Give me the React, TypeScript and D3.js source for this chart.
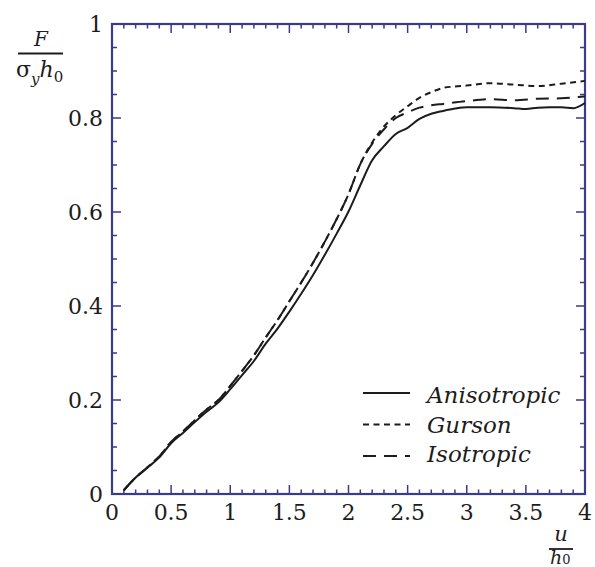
import React from "react";
import * as d3 from "d3";

const uAniso = [0.1,0.2,0.3,0.4,0.5,0.6,0.7,0.8,0.9,1.0,1.1,1.2,1.3,1.4,1.5,1.6,1.7,1.8,1.9,2.0,2.1,2.2,2.3,2.4,2.5,2.6,2.7,2.8,2.9,3.0,3.2,3.4,3.5,3.6,3.7,3.8,3.9,4.0];
const fAniso = [0.008,0.035,0.056,0.078,0.108,0.13,0.153,0.175,0.195,0.223,0.253,0.283,0.32,0.352,0.388,0.426,0.466,0.509,0.554,0.601,0.657,0.71,0.74,0.766,0.779,0.798,0.809,0.815,0.82,0.823,0.823,0.821,0.819,0.822,0.823,0.823,0.821,0.832];

const uGurson = [0.1,0.2,0.3,0.4,0.5,0.6,0.7,0.8,0.9,1.0,1.1,1.2,1.3,1.4,1.5,1.6,1.7,1.8,1.9,2.0,2.1,2.2,2.3,2.4,2.5,2.6,2.7,2.8,2.9,3.0,3.2,3.4,3.6,3.8,4.0];
const fGurson = [0.008,0.035,0.057,0.08,0.111,0.133,0.157,0.18,0.2,0.23,0.262,0.295,0.333,0.37,0.41,0.45,0.492,0.537,0.585,0.638,0.702,0.748,0.782,0.806,0.825,0.843,0.855,0.864,0.867,0.869,0.874,0.871,0.868,0.873,0.879];

const uIso = [0.1,0.2,0.3,0.4,0.5,0.6,0.7,0.8,0.9,1.0,1.1,1.2,1.3,1.4,1.5,1.6,1.7,1.8,1.9,2.0,2.1,2.2,2.3,2.4,2.5,2.6,2.7,2.8,3.0,3.2,3.4,3.6,3.8,4.0];
const fIso = [0.008,0.035,0.057,0.08,0.111,0.133,0.157,0.18,0.2,0.23,0.262,0.295,0.333,0.37,0.41,0.45,0.492,0.537,0.585,0.638,0.702,0.745,0.776,0.8,0.812,0.822,0.827,0.83,0.836,0.84,0.838,0.841,0.842,0.846];

const xTicks = [0, 0.5, 1, 1.5, 2, 2.5, 3, 3.5, 4];
const xTickLabels = ["0", "0.5", "1", "1.5", "2", "2.5", "3", "3.5", "4"];
const yTicks = [0, 0.2, 0.4, 0.6, 0.8, 1];
const yTickLabels = ["0", "0.2", "0.4", "0.6", "0.8", "1"];
const seriesNames = ["Anisotropic", "Gurson", "Isotropic"];

const L = 112, R = 585, T = 24, B = 494;
const AX = "#3b3a8c";
const INK = "#1c1c1c";
const SERIF = "DejaVu Serif";

export default function App() {
  const x = d3.scaleLinear().domain([0, 4]).range([L, R]);
  const y = d3.scaleLinear().domain([0, 1]).range([B, T]);
  const line = d3.line<[number, number]>().x(d => x(d[0])).y(d => y(d[1])).curve(d3.curveMonotoneX);
  const zip = (a: number[], b: number[]) => a.map((v, i) => [v, b[i]] as [number, number]);

  const xMinor = d3.range(0, 41).map(i => i / 10);
  const yMinor = d3.range(0, 21).map(i => i / 20);
  const isMajX = (v: number) => Math.abs(v * 2 - Math.round(v * 2)) < 1e-6;
  const isMajY = (v: number) => Math.abs(v * 5 - Math.round(v * 5)) < 1e-6;

  const series = [
    { name: seriesNames[0], d: zip(uAniso, fAniso), dash: "none" },
    { name: seriesNames[1], d: zip(uGurson, fGurson), dash: "6,4.5" },
    { name: seriesNames[2], d: zip(uIso, fIso), dash: "13,8" },
  ];

  return (
    <svg width={595} height={567} style={{ position: "absolute", left: 0, top: 0 }}>
      <rect width={595} height={567} fill="#fff" />
      {xMinor.map((v, i) => {
        const len = isMajX(v) ? 9 : 4.5;
        return (
          <g key={"xt" + i} stroke={AX} strokeWidth={1.5}>
            <line x1={x(v)} x2={x(v)} y1={B} y2={B - len} />
            <line x1={x(v)} x2={x(v)} y1={T} y2={T + len} />
          </g>
        );
      })}
      {yMinor.map((v, i) => {
        const len = isMajY(v) ? 9 : 5;
        return (
          <g key={"yt" + i} stroke={AX} strokeWidth={1.5}>
            <line x1={L} x2={L + len} y1={y(v)} y2={y(v)} />
            <line x1={R} x2={R - len} y1={y(v)} y2={y(v)} />
          </g>
        );
      })}
      <rect x={L} y={T} width={R - L} height={B - T} fill="none" stroke={AX} strokeWidth={2.2} />
      {xTicks.map((v, i) => (
        <text key={"xl" + i} fontFamily={SERIF} x={x(v)} y={520} textAnchor="middle" fontSize={22} fill={INK}>{xTickLabels[i]}</text>
      ))}
      {yTicks.map((v, i) => (
        <text key={"yl" + i} fontFamily={SERIF} x={103} y={y(v) + 8} textAnchor="end" fontSize={22} fill={INK}>{yTickLabels[i]}</text>
      ))}
      {series.map((s, i) => (
        <path key={"s" + i} d={line(s.d) || ""} fill="none" stroke={INK} strokeWidth={2} strokeDasharray={s.dash} />
      ))}
      {series.map((s, i) => (
        <g key={"lg" + i}>
          <line x1={363} x2={410} y1={393 + i * 31.5} y2={393 + i * 31.5} stroke={INK} strokeWidth={2} strokeDasharray={s.dash} />
          <text fontFamily={SERIF} x={427} y={403 + i * 29.5} fontSize={23} fontStyle="italic" fill={INK}>{s.name}</text>
        </g>
      ))}
      <text fontFamily={SERIF} x={41} y={46} textAnchor="middle" fontSize={20} fontStyle="italic" fill={INK}>F</text>
      <line x1={18} x2={63} y1={53.5} y2={53.5} stroke={INK} strokeWidth={1.8} />
      <text fontFamily={SERIF} x={16} y={77} fontSize={22} fill={INK}>
        σ<tspan fontSize={15} fontStyle="italic" dy={7}>y</tspan>
        <tspan fontSize={22} fontStyle="italic" dy={-7}>h</tspan>
        <tspan fontSize={15} dy={5}>0</tspan>
      </text>
      <text fontFamily={SERIF} x={561} y={541} textAnchor="middle" fontSize={21} fontStyle="italic" fill={INK}>u</text>
      <line x1={549} x2={573} y1={549} y2={549} stroke={INK} strokeWidth={1.8} />
      <text fontFamily={SERIF} x={550} y={564} fontSize={19} fill={INK}>
        <tspan fontStyle="italic">h</tspan>
        <tspan fontSize={13}>0</tspan>
      </text>
    </svg>
  );
}
